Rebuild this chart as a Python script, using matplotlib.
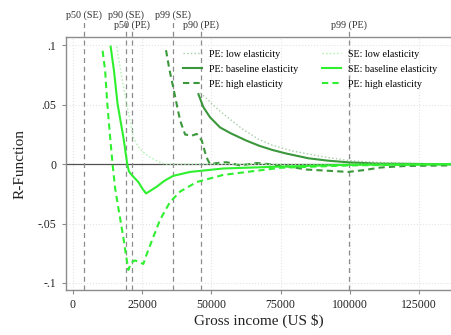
import numpy as np
import matplotlib
matplotlib.use('Agg')
import matplotlib.pyplot as plt

plt.rcParams['font.family'] = ['Liberation Serif', 'DejaVu Serif']

# ---- data ----
pe_low_x = [46000, 48000, 50500, 55000, 61000, 67000, 72000, 79500, 91000, 100000, 110000, 125000, 137000]
pe_low_y = [0.060, 0.056, 0.050, 0.041, 0.030, 0.021, 0.016, 0.011, 0.006, 0.003, 0.0015, 0.0005, 0.0]

pe_base_x = [45300, 47100, 49500, 53100, 57000, 62500, 67300, 72000, 77000, 85000, 92000, 100000, 110000, 137000]
pe_base_y = [0.059, 0.048, 0.0395, 0.031, 0.026, 0.020, 0.0155, 0.012, 0.009, 0.005, 0.003, 0.0015, 0.0005, 0.0]

pe_high_x = [33600, 34800, 36200, 37500, 38700, 40500, 42900, 44700, 46500, 47700, 48600, 49500, 52000,
             55500, 60300, 66400, 71200, 78000, 84400, 92000, 99400, 105000, 111000, 120000, 137000]
pe_high_y = [0.096, 0.080, 0.0647, 0.050, 0.0367, 0.025, 0.024, 0.0255, 0.020, 0.010, 0.004, 0.0, 0.001,
             0.0017, -0.001, 0.001, 0.0, -0.002, -0.0045, -0.0055, -0.0065, -0.005, -0.0028, -0.0015, -0.001]

se_low_x = [15800, 17500, 19400, 21800, 23500, 25400, 27800, 30200, 33000, 40000, 137000]
se_low_y = [0.099, 0.075, 0.0507, 0.0227, 0.015, 0.010, 0.006, 0.003, 0.0, 0.0, 0.0]

se_base_x = [13600, 14800, 16100, 18200, 19600, 20200, 21200, 23600, 25200, 26400, 28200, 30200, 33000,
             36200, 42300, 54300, 75000, 100000, 137000]
se_base_y = [0.099, 0.0787, 0.0507, 0.0227, 0.0, -0.006, -0.009, -0.015, -0.021, -0.0246, -0.022, -0.019,
             -0.014, -0.0098, -0.0065, -0.0036, -0.002, -0.0005, 0.0]

se_high_x = [10700, 11600, 12400, 13400, 14300, 15200, 16400, 18200, 19100, 20000, 21000, 22300, 23600,
             25400, 26600, 28400, 31400, 35000, 38700, 44700, 54300, 75000, 100000, 137000]
se_high_y = [0.0955, 0.079, 0.0507, 0.023, 0.0, -0.020, -0.037, -0.062, -0.076, -0.089, -0.083, -0.081,
             -0.082, -0.084, -0.076, -0.065, -0.047, -0.032, -0.023, -0.015, -0.009, -0.003, -0.001, 0.0]

pct_x = [4000, 19150, 21300, 36000, 46250, 99800]
pct_labels = ['p50 (SE)', 'p90 (SE)', 'p50 (PE)', 'p99 (SE)', 'p90 (PE)', 'p99 (PE)']
pct_row = [1, 1, 2, 1, 2, 2]

xticks = [0, 25000, 50000, 75000, 100000, 125000]
yticks = [-0.1, -0.05, 0, 0.05, 0.1]
yticklabels = ['-.1', '-.05', '0', '.05', '.1']

dark = '#3b973b'
dark_pale = '#a6cda6'
lime = '#2ef02e'
lime_pale = '#a8f2a8'

fig = plt.figure(figsize=(4.52, 3.35), dpi=100)
ax = fig.add_axes([0.146, 0.134, 0.854, 0.7552])

ax.set_xlim(-2530, 136900)
ax.set_ylim(-0.106, 0.107)

# grid
for yv in [-0.1, -0.05, 0.05, 0.1]:
    ax.axhline(yv, color='#e4e4e4', lw=0.8, ls=':', zorder=0)
for xv in xticks:
    ax.axvline(xv, color='#e4e4e4', lw=0.8, ls=':', zorder=0)
ax.axhline(0, color='#505050', lw=0.9, zorder=1)

# percentile lines, extending up to the labels
for xv, lab, row in zip(pct_x, pct_labels, pct_row):
    top = 1.067 if row == 1 else 1.028
    ax.axvline(xv, ymin=0, ymax=top, color='#8c8c8c', lw=0.9, ls=(0, (4, 3)),
               clip_on=False, zorder=1)
    ax.annotate(lab, xy=(xv, 1.0), xycoords=('data', 'axes fraction'),
                xytext=(0, 15.5 if row == 1 else 8.3), textcoords='offset points',
                ha='center', va='center', fontsize=7.3, color='#333333')

ax.plot(pe_low_x, pe_low_y, color=dark_pale, lw=1.0, ls=':', label='PE: low elasticity', zorder=3)
ax.plot(pe_base_x, pe_base_y, color=dark, lw=1.5, label='PE: baseline elasticity', zorder=3)
ax.plot(pe_high_x, pe_high_y, color=dark, lw=1.5, ls=(0, (3, 2)), label='PE: high elasticity', zorder=3)
ax.plot(se_low_x, se_low_y, color=lime_pale, lw=1.0, ls=':', label='SE: low elasticity', zorder=3)
ax.plot(se_base_x, se_base_y, color=lime, lw=1.5, label='SE: baseline elasticity', zorder=3)
ax.plot(se_high_x, se_high_y, color=lime, lw=1.5, ls=(0, (3, 2)), label='PE: high elasticity', zorder=3)

leg = ax.legend(loc='upper right', ncol=2, frameon=False, fontsize=7.2,
                handlelength=1.9, handletextpad=0.75, columnspacing=2.3,
                labelspacing=0.6, bbox_to_anchor=(0.985, 0.985))

ax.set_xticks(xticks)
ax.set_xticklabels([str(v) for v in xticks])
ax.set_yticks(yticks)
ax.set_yticklabels(yticklabels)
ax.tick_params(axis='both', labelsize=8.5, color='#8c8c8c', length=3, width=0.8,
               labelcolor='#222222', direction='out')
ax.tick_params(axis='y', pad=4)

for side in ['left', 'bottom', 'top']:
    ax.spines[side].set_color('#8c8c8c')
    ax.spines[side].set_linewidth(1.0)
ax.spines['right'].set_visible(False)

ax.set_xlabel('Gross income (US $)', fontsize=11, color='#222222', labelpad=2)
ax.set_ylabel('R-Function', fontsize=11, color='#222222', labelpad=8)

fig.savefig('out.png', dpi=100)
